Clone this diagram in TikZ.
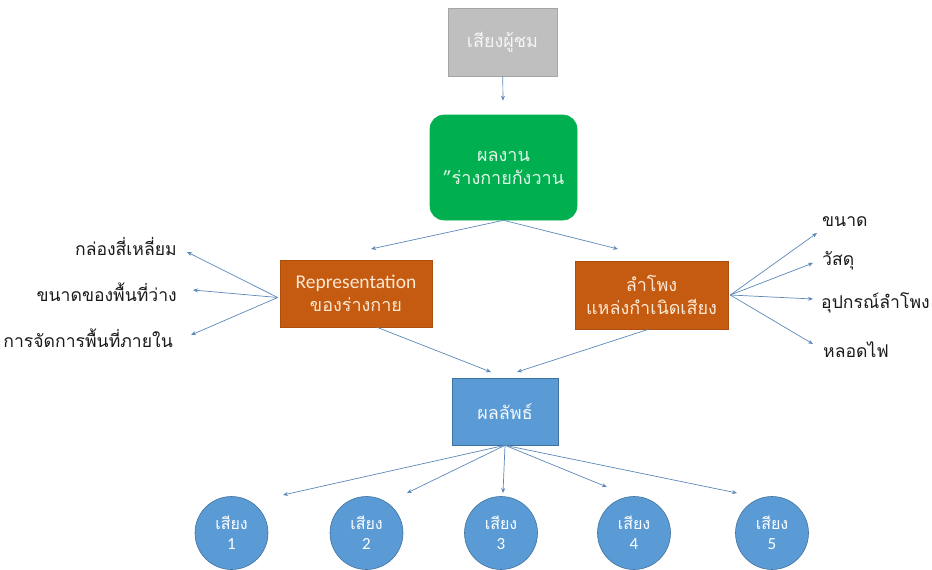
\documentclass[tikz,border=0pt]{standalone}
\usepackage{fontspec}
\setmainfont{Carlito}
\newfontfamily\thaifont[Script=Thai]{Loma}
\usetikzlibrary{arrows.meta}

\definecolor{arrowc}{HTML}{5B88B8}
\definecolor{grayfill}{HTML}{BFBFBF}
\definecolor{grayline}{HTML}{A5A5A5}
\definecolor{greenfill}{HTML}{00B050}
\definecolor{orangefill}{HTML}{C55A11}
\definecolor{orangeline}{HTML}{AE4E0E}
\definecolor{bluefill}{HTML}{5B9BD5}
\definecolor{blueline}{HTML}{41719C}
\definecolor{labelc}{HTML}{1A1A1A}
\definecolor{creamtext}{HTML}{FCE8D2}
\definecolor{greentext}{HTML}{E2F5E6}

\begin{document}
\begin{tikzpicture}[x=1pt,y=-1pt,
  box/.style={draw, align=center, inner sep=0pt, line width=0.6pt,
    font=\thaifont\fontsize{18}{23}\selectfont},
  conn/.style={draw=arrowc, line width=0.7pt, -{Stealth[length=5pt,width=4pt]}},
  lbl/.style={inner sep=0pt, text=labelc, font=\thaifont\fontsize{17.6}{20}\selectfont},
  sound/.style={circle, draw=blueline, fill=bluefill, line width=0.6pt,
    minimum size=73pt, inner sep=0pt, align=center, text=white,
    font=\fontsize{17}{20}\selectfont}
]
\useasboundingbox (0,0) rectangle (932,570);

% main chain of boxes
\node[box, fill=grayfill, draw=grayline, text=white!92!gray,
  minimum width=109pt, minimum height=68pt] (audience) at (502.5,42) {เสียงผู้ชม};
\node[box, fill=greenfill, draw=greenfill, text=greentext, rounded corners=14pt,
  minimum width=147pt, minimum height=105pt] (work) at (503.5,167.5)
  {ผลงาน\\”ร่างกายกังวาน};
\node[box, fill=orangefill, draw=orangeline, text=creamtext,
  minimum width=152pt, minimum height=67pt] (rep) at (356,293.5)
  {{\fontspec{Carlito}\fontsize{19.5}{23}\selectfont Representation}\\ของร่างกาย};
\node[box, fill=orangefill, draw=orangeline, text=creamtext,
  minimum width=153pt, minimum height=68pt] (spk) at (651.5,295)
  {ลำโพง\\แหล่งกำเนิดเสียง};
\node[box, fill=bluefill, draw=blueline, text=white!92!bluefill,
  minimum width=106pt, minimum height=67pt] (result) at (505,411.5) {ผลลัพธ์};

% outcome circles
\node[sound] (s1) at (231.5,533) {{\thaifont\fontsize{16}{20}\selectfont เสียง}\\1};
\node[sound] (s2) at (366.5,533) {{\thaifont\fontsize{16}{20}\selectfont เสียง}\\2};
\node[sound] (s3) at (501,533) {{\thaifont\fontsize{16}{20}\selectfont เสียง}\\3};
\node[sound] (s4) at (634,533) {{\thaifont\fontsize{16}{20}\selectfont เสียง}\\4};
\node[sound] (s5) at (772,533) {{\thaifont\fontsize{16}{20}\selectfont เสียง}\\5};

% side labels
\node[lbl, anchor=east] (l1) at (177,246) {กล่องสี่เหลี่ยม};
\node[lbl, anchor=east] (l2) at (177,292) {ขนาดของพื้นที่ว่าง};
\node[lbl, anchor=east] (l3) at (173,338) {การจัดการพื้นที่ภายใน};
\node[lbl, anchor=west] (r1) at (822,222) {ขนาด};
\node[lbl, anchor=west] (r2) at (822,261) {วัสดุ};
\node[lbl, anchor=west] (r3) at (821,303) {อุปกรณ์ลำโพง};
\node[lbl, anchor=west] (r4) at (823,350) {หลอดไฟ};

% arrow tips that stop short of their targets
\coordinate (tl1) at (187,252);
\coordinate (tl2) at (193,290);
\coordinate (tl3) at (191,335);
\coordinate (tr1) at (817,233);
\coordinate (tr2) at (813,263);
\coordinate (tr3) at (813,299);
\coordinate (tr4) at (813,344);
\coordinate (tw1) at (371,249);
\coordinate (tw2) at (618,249);
\coordinate (tb1) at (491,372);
\coordinate (tb2) at (517,372);
\coordinate (tc1) at (283,495);
\coordinate (tc2) at (407,493);
\coordinate (tc3) at (503,493);
\coordinate (tc4) at (607,487);
\coordinate (tc5) at (737,493);

% connectors
\draw[conn, shorten >=14pt] (audience) -- (work);
\draw[conn] (work.south) -- (tw1);
\draw[conn] (work.south) -- (tw2);
\foreach \t in {tl1,tl2,tl3} \draw[conn] ([xshift=-2pt,yshift=-4pt]rep.west) -- (\t);
\foreach \t in {tr1,tr2,tr3,tr4} \draw[conn] ([xshift=2pt]spk.east) -- (\t);
\draw[conn] ([xshift=21pt]rep.south) -- (tb1);
\draw[conn] ([xshift=-3pt]spk.south) -- (tb2);
\foreach \t in {tc1,tc2,tc3,tc4,tc5} \draw[conn] (result.south) -- (\t);
\end{tikzpicture}
\end{document}
